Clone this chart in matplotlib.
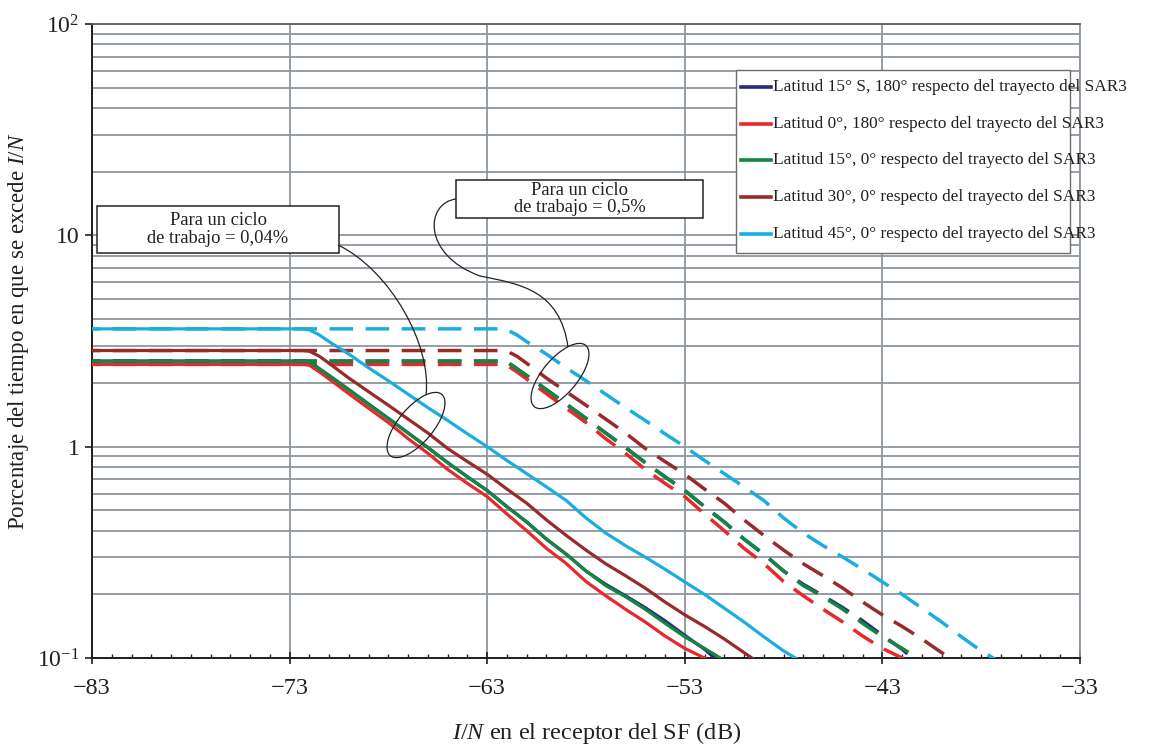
import matplotlib
matplotlib.use("Agg")
import matplotlib.pyplot as plt
from matplotlib.lines import Line2D
from matplotlib.patches import Rectangle, Ellipse, PathPatch
from matplotlib.path import Path
from matplotlib.ticker import FixedLocator, MultipleLocator, NullFormatter

plt.rcParams['font.family'] = ['Liberation Serif', 'DejaVu Serif']
plt.rcParams['mathtext.fontset'] = 'custom'
plt.rcParams['mathtext.rm'] = 'Liberation Serif'
plt.rcParams['mathtext.it'] = 'Liberation Serif:italic'

# exceedance curves, duty cycle 0.04 % (solid) and 0.5 % (dashed)
s15_x = [-83, -72.3, -72, -71.5, -71, -70, -69, -68, -67, -66, -65, -64, -63, -62, -61,
         -60, -59, -58, -57, -56, -55, -54, -53, -52, -51.5, -51.3]
s15_y = [2.54, 2.54, 2.52, 2.34, 2.17, 1.86, 1.59, 1.36, 1.16, 0.99, 0.84, 0.72, 0.62, 0.52, 0.44,
         0.365, 0.31, 0.258, 0.223, 0.197, 0.173, 0.150, 0.128, 0.110, 0.100, 0.097]

lat0_x = [-83, -72.3, -72, -71.5, -71, -70, -69, -68, -67, -66, -65, -64, -63, -62, -61,
          -60, -59, -58, -57, -56, -55, -54, -53, -52, -51.7]
lat0_y = [2.45, 2.45, 2.43, 2.26, 2.09, 1.78, 1.52, 1.30, 1.09, 0.93, 0.78, 0.67, 0.58, 0.48, 0.40,
          0.33, 0.28, 0.23, 0.197, 0.17, 0.148, 0.127, 0.111, 0.100, 0.096]

lat15_x = [-83, -72.3, -72, -71.5, -71, -70, -69, -68, -67, -66, -65, -64, -63, -62, -61,
           -60, -59, -58, -57, -56, -55, -54, -53, -52, -51.2, -51.0]
lat15_y = [2.54, 2.54, 2.52, 2.34, 2.17, 1.86, 1.59, 1.36, 1.16, 0.99, 0.84, 0.72, 0.62, 0.52, 0.44,
           0.365, 0.31, 0.258, 0.22, 0.195, 0.17, 0.146, 0.126, 0.111, 0.100, 0.097]

lat30_x = [-83, -72.3, -72, -71.5, -71, -70, -69, -68, -67, -66, -65, -64, -63, -62, -61,
           -60, -59, -58, -57, -56, -55, -54, -53, -52, -51, -50, -49.6, -49.4]
lat30_y = [2.85, 2.85, 2.83, 2.68, 2.48, 2.11, 1.82, 1.57, 1.35, 1.16, 0.98, 0.85, 0.74, 0.63, 0.54,
           0.45, 0.38, 0.324, 0.279, 0.245, 0.214, 0.184, 0.160, 0.141, 0.123, 0.106, 0.100, 0.097]

lat45_x = [-83, -72.3, -72, -71.5, -71, -70, -69, -68, -67, -66, -65, -64, -63, -62, -61,
           -60, -59, -58, -57, -56, -55, -54, -53, -52, -51, -50, -49, -48, -47.4, -47.2]
lat45_y = [3.61, 3.61, 3.57, 3.38, 3.14, 2.74, 2.36, 2.05, 1.77, 1.53, 1.33, 1.15, 1.00, 0.86, 0.745,
           0.645, 0.556, 0.46, 0.39, 0.34, 0.30, 0.263, 0.229, 0.200, 0.172, 0.148, 0.126, 0.108, 0.100, 0.097]

s15_dx = [-83, -62.3, -62, -61.5, -61, -60, -59, -58, -57, -56, -55, -54, -53, -52, -51,
          -50, -49, -48, -47, -46, -45, -44, -43, -42, -41.5, -41.3]
lat0_dx = [-83, -62.3, -62, -61.5, -61, -60, -59, -58, -57, -56, -55, -54, -53, -52, -51,
           -50, -49, -48, -47, -46, -45, -44, -43, -42, -41.7]
lat15_dx = [-83, -62.3, -62, -61.5, -61, -60, -59, -58, -57, -56, -55, -54, -53, -52, -51,
            -50, -49, -48, -47, -46, -45, -44, -43, -42, -41.2, -41.0]
lat30_dx = [-83, -62.3, -62, -61.5, -61, -60, -59, -58, -57, -56, -55, -54, -53, -52, -51,
            -50, -49, -48, -47, -46, -45, -44, -43, -42, -41, -40, -39.6, -39.4]
lat45_dx = [-83, -62.3, -62, -61.5, -61, -60, -59, -58, -57, -56, -55, -54, -53, -52, -51,
            -50, -49, -48, -47, -46, -45, -44, -43, -42, -41, -40, -39, -38, -37.4, -37.2]

labels = [
    "Latitud 15° S, 180° respecto del trayecto del SAR3",
    "Latitud 0°, 180° respecto del trayecto del SAR3",
    "Latitud 15°, 0° respecto del trayecto del SAR3",
    "Latitud 30°, 0° respecto del trayecto del SAR3",
    "Latitud 45°, 0° respecto del trayecto del SAR3",
]
colors = ["#2b2880", "#e8282c", "#11873f", "#992a2a", "#1aaee0"]

series = [
    (s15_x, s15_dx, s15_y),
    (lat0_x, lat0_dx, lat0_y),
    (lat15_x, lat15_dx, lat15_y),
    (lat30_x, lat30_dx, lat30_y),
    (lat45_x, lat45_dx, lat45_y),
]

x_ticks = [-83, -73, -63, -53, -43, -33]
y_ticks = [0.1, 1, 10, 100]
y_ticklabels = ["$10^{-1}$", "1", "10", "$10^{2}$"]

TEXT = "#231f20"
GRID = "#8e959d"

fig = plt.figure(figsize=(11.62, 7.46), dpi=100)
ax = fig.add_axes([92 / 1162, 88 / 746, 988 / 1162, 634 / 746])

ax.set_yscale("log")
ax.set_xlim(-83, -33)
ax.set_ylim(0.1, 100)

for (xs, xd, ys), c in zip(series, colors):
    ax.plot(xd, ys, color=c, lw=2.5, linestyle=(4.4, (6.8, 3.6)), solid_capstyle="butt", zorder=3)
lines = []
for (xs, xd, ys), c in zip(series, colors):
    (ln,) = ax.plot(xs, ys, color=c, lw=2.3, zorder=4)
    lines.append(ln)

# grid and ticks
ax.xaxis.set_major_locator(FixedLocator(x_ticks))
ax.xaxis.set_minor_locator(MultipleLocator(1))
ax.set_xticklabels(["\u2212%d" % abs(v) for v in x_ticks])
ax.set_yticks(y_ticks)
ax.set_yticklabels(y_ticklabels)
ax.yaxis.set_minor_formatter(NullFormatter())
ax.grid(True, which="major", axis="x", color=GRID, lw=1.3)
ax.grid(True, which="both", axis="y", color=GRID, lw=1.3)
ax.set_axisbelow(True)
ax.tick_params(axis="x", which="major", direction="inout", length=9, width=1.2,
               labelsize=17.5, pad=10, colors=TEXT)
ax.tick_params(axis="x", which="minor", direction="in", length=3, width=1.0, color=TEXT)
ax.tick_params(axis="y", which="major", direction="out", length=5, width=1.2,
               labelsize=17, pad=4, colors=TEXT)
ax.tick_params(axis="y", which="minor", length=0)

for side in ("left", "bottom"):
    ax.spines[side].set_color("#1e1e1e")
    ax.spines[side].set_linewidth(1.4)
ax.spines["top"].set_color("#5b5f64")
ax.spines["top"].set_linewidth(1.3)
ax.spines["right"].set_color(GRID)
ax.spines["right"].set_linewidth(1.3)

ax.set_xlabel("$I/N$ en el receptor del SF (dB)", fontsize=17.5, color=TEXT)
ax.set_ylabel("Porcentaje del tiempo en que se excede $I/N$", fontsize=16.5, color=TEXT)
ax.xaxis.set_label_coords((597 - 92) / 988, (658 - 720) / 634)
ax.yaxis.set_label_coords((31 - 92) / 988, (658 - 331) / 634)

# legend box, text is allowed to run past the frame
leg_left, leg_right = (736 - 92) / 988, (1070 - 92) / 988
leg_top, leg_bottom = (658 - 70) / 634, (658 - 253) / 634
ax.add_patch(Rectangle((leg_left, leg_bottom), leg_right - leg_left, leg_top - leg_bottom,
                       transform=ax.transAxes, facecolor="white", edgecolor="#6d6d6d",
                       lw=1.0, clip_on=False, zorder=6))
row0 = (658 - 87) / 634
row_step = 36.7 / 634
for i, (ln, lab) in enumerate(zip(lines, labels)):
    yy = row0 - i * row_step
    ax.add_line(Line2D([(741 - 92) / 988, (771 - 92) / 988], [yy, yy], color=ln.get_color(),
                       lw=2.6, transform=ax.transAxes, clip_on=False, zorder=7))
    ax.text((773 - 92) / 988, yy, lab, transform=ax.transAxes, fontsize=12.4, color=TEXT,
            va="center", ha="left", clip_on=False, zorder=7)


def px(x, y):
    return x / 100, (746 - y) / 100


# callout boxes, leaders and ellipses
callouts = [
    ((97, 206, 339, 253), "Para un ciclo\nde trabajo = 0,04%"),
    ((456, 180, 703, 218), "Para un ciclo\nde trabajo = 0,5%"),
]
for (x0, y0, x1, y1), txt in callouts:
    ax.add_patch(Rectangle(px(x0, y1), (x1 - x0) / 100, (y1 - y0) / 100,
                           transform=fig.dpi_scale_trans, facecolor="white",
                           edgecolor="#222222", lw=1.1, clip_on=False, zorder=8))
    cx, cy = px((x0 + x1) / 2, (y0 + y1) / 2)
    ax.text(cx, cy, txt, transform=fig.dpi_scale_trans, ha="center", va="center",
            fontsize=13.3, color=TEXT, linespacing=1.05, zorder=9)

leaders = [
    [(338, 245), (390, 270), (432, 345), (426, 395)],
    [(456, 199), (425, 203), (422, 255), (480, 276), (520, 284), (560, 290), (568, 347)],
]
for pts in leaders:
    verts = [px(*p) for p in pts]
    codes = [Path.MOVETO] + [Path.CURVE4] * (len(verts) - 1)
    ax.add_patch(PathPatch(Path(verts, codes), transform=fig.dpi_scale_trans,
                           facecolor="none", edgecolor="#222222", lw=0.9, clip_on=False, zorder=8))

for cx, cy in [(416, 425), (560, 376)]:
    ax.add_patch(Ellipse(px(cx, cy), 0.80, 0.35, angle=50, transform=fig.dpi_scale_trans,
                         facecolor="none", edgecolor="#222222", lw=0.9, clip_on=False, zorder=8))

fig.savefig("out.png", dpi=100)
